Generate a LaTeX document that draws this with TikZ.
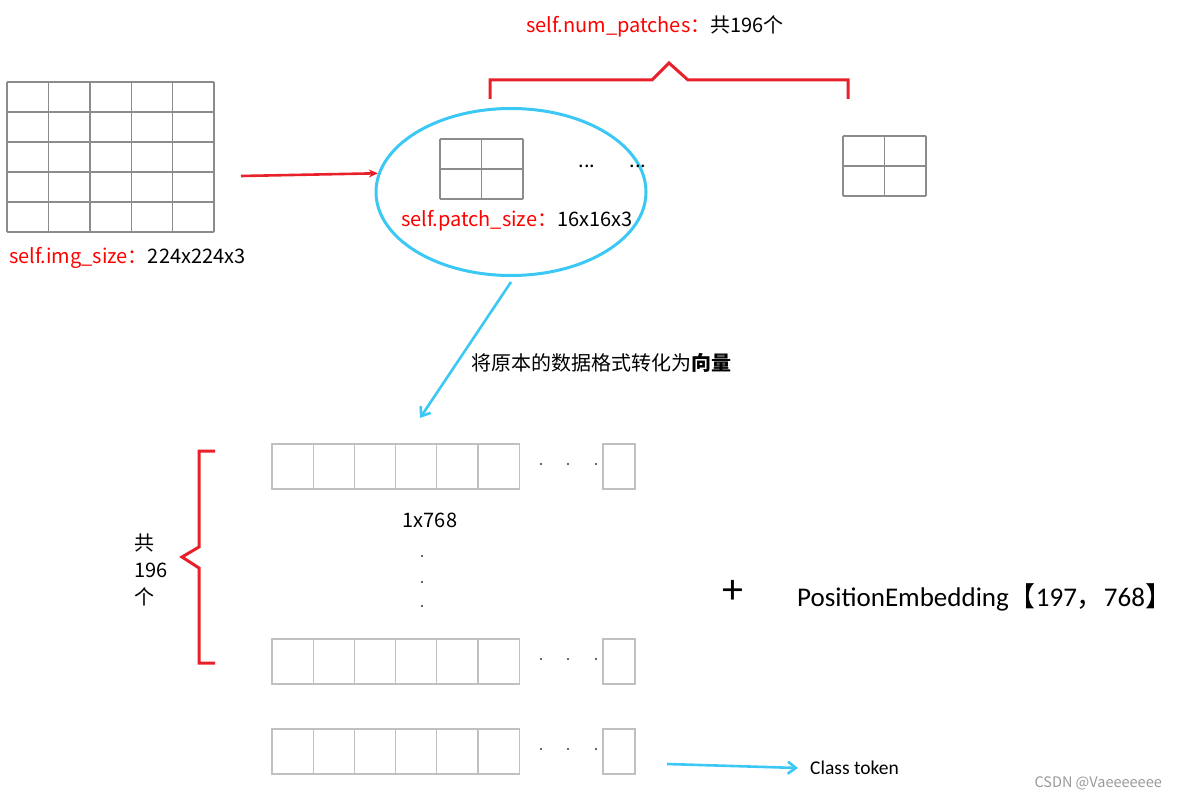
\documentclass[tikz,border=0pt]{standalone}
\usepackage{fontspec}
\setmainfont{Noto Sans CJK SC}
\newfontfamily\calibri{Carlito}
\usepackage{tikz}
\usetikzlibrary{arrows.meta, positioning, shapes.geometric}
\definecolor{gridgray}{HTML}{8C8C8C}
\definecolor{cellgray}{HTML}{C0C0C0}
\definecolor{markred}{HTML}{E8202A}
\definecolor{arrowblue}{HTML}{3CC8F5}
\definecolor{subtext}{HTML}{999999}
\colorlet{labelred}{red}
\newcommand{\pgrid}[6]{% x, y, cols, rows, cell width, cell height
  \foreach \cx in {0,...,#3} {
    \draw[line width=1.4pt, gridgray] (#1+\cx*#5,#2) -- ++(0,#4*#6);
  }
  \foreach \cy in {0,...,#4} {
    \draw[line width=1.4pt, gridgray] (#1,#2+\cy*#6) -- ++(#3*#5,0);
  }%
}
\newcommand{\vrow}[1]{% one 1x768 vector, top edge at #1
  \foreach \cx in {0,...,5} {
    \draw[line width=1.2pt, cellgray] (272+\cx*41.2,#1) rectangle ++(41.2,45);
  }
  \draw[line width=1.2pt, cellgray] (603,#1) rectangle ++(32,45);
  \foreach \dx in {541,568,596} {
    \fill[black!80] (\dx,#1+20) circle (1.2pt);
  }%
}

\begin{document}
\begin{tikzpicture}[x=1pt, y=-1pt, font=\fontsize{20}{24}\selectfont,
    link/.style={line width=2.6pt, -{Straight Barb[length=8pt, width=12pt]}},
    bracket/.style={markred, line width=3pt},
  ]
    \useasboundingbox (0,0) rectangle (1177,799);

    % input image split into patches
    \pgrid{7}{82}{5}{5}{41.4}{30}
    \coordinate (imgout) at (241,176);
    \node[anchor=west, inner sep=0] (imgsize) at (9,258)
      {\textcolor{labelred}{self.img\_size：}224x224x3};

    % the patches
    \node[ellipse, draw=arrowblue, line width=3pt,
      minimum width=270pt, minimum height=167pt] (patches) at (511,192) {};
    \pgrid{440}{139}{2}{2}{41.5}{30}
    \node (dotsa) at (587,166) {...};
    \node (dotsb) at (638,166) {...};
    \node[anchor=west, inner sep=0] (patchsize) at (401,221)
      {\textcolor{labelred}{self.patch\_size：}16x16x3};
    \pgrid{843}{136}{2}{2}{41.5}{30}

    % 196 patches in all
    \draw[bracket] (490,99) -- (490,80) -- (652,80) -- (669,63)
      -- (688,80) -- (848,80) -- (848,99);
    \node[anchor=west, inner sep=0] (numpatches) at (526,26)
      {\textcolor{labelred}{self.num\_patches：}共196个};

    \draw[markred, line width=2.6pt, -{Stealth[length=9pt, width=8pt]}]
      (imgout) -- (patches.172);

    % flatten to vectors
    \coordinate (vecin) at (420,418);
    \draw[arrowblue, link] ([yshift=-5pt]patches.south) -- (vecin);
    \node[anchor=west, inner sep=0] (tovec) at (471,363)
      {将原本的数据格式转化为\textbf{向量}};

    \vrow{444}
    \node (dim) at (430,520) {1x768};
    \foreach \vy in {556,582,606} {
      \fill[black!80] (422,\vy) circle (1.2pt);
    }
    \vrow{639}
    \vrow{729}

    % 196 vectors
    \draw[bracket] (215,451) -- (199,451) -- (199,547) -- (182,557)
      -- (199,568) -- (199,663) -- (215,663);
    \node[anchor=west, align=left, inner sep=0,
      font=\fontsize{20}{27}\selectfont] (cnt) at (134,570) {共\\196\\个};

    % position embedding
    \node[font=\calibri\fontsize{42}{44}\selectfont] (plus) at (733,592) {+};
    \node[anchor=west, inner sep=0, font=\calibri\fontsize{27}{31}\selectfont]
      (posemb) at (797,597)
      {PositionEmbedding{\rmfamily 【}197{\rmfamily ，}768{\rmfamily 】}};

    % class token
    \node[anchor=west, inner sep=0, font=\calibri\fontsize{19.5}{22}\selectfont]
      (cls) at (810,768) {Class token};
    \coordinate (clsin) at (667,764);
    \draw[arrowblue, link] (clsin) -- ([xshift=-12pt]cls.west);

    \node[anchor=east, inner sep=0, text=subtext,
      font=\fontsize{14.5}{17}\selectfont] (csdn) at (1162,783) {CSDN @Vaeeeeeee};
  \end{tikzpicture}
\end{document}
